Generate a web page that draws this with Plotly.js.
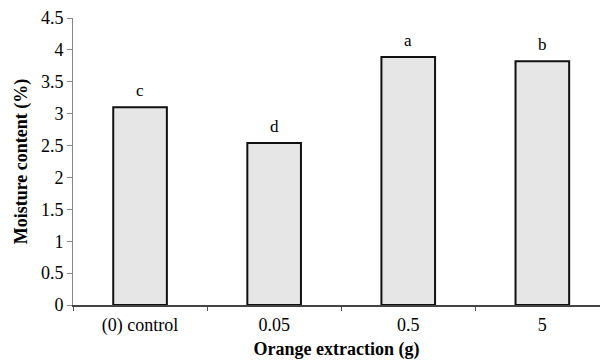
<!DOCTYPE html>
<html>
<head>
<meta charset="utf-8">
<script src="https://cdn.plot.ly/plotly-3.0.1.min.js"></script>
<style>html,body{margin:0;padding:0;background:#fff;}#chart{width:600px;height:360px;}</style>
</head>
<body>
<div id="chart"></div>
<script>
var categories = ["(0) control", "0.05", "0.5", "5"];
var moisture = [3.10, 2.54, 3.89, 3.82];
var letters = ["c", "d", "a", "b"];

var serif = "'Liberation Serif', 'Times New Roman', 'DejaVu Serif', serif";

var trace = {
  type: "bar",
  x: categories,
  y: moisture,
  width: 0.4,
  marker: {color: "#e6e6e6", line: {color: "#111", width: 2}},
  hoverinfo: "x+y"
};

var annotations = categories.map(function (c, i) {
  return {
    x: i, y: moisture[i], text: letters[i], showarrow: false,
    xref: "x", yref: "y",
    yanchor: "bottom", yshift: 5, font: {family: serif, size: 17, color: "#000"}
  };
});

var layout = {
  width: 600, height: 360,
  margin: {l: 73, r: 0, t: 18, b: 55},
  paper_bgcolor: "#fff", plot_bgcolor: "#fff",
  showlegend: false,
  font: {family: serif, size: 18, color: "#000"},
  xaxis: {
    type: "category",
    range: [-0.5, 3.43],
    tickson: "boundaries",
    ticks: "outside", ticklen: 4, tickcolor: "#555",
    showline: true, linecolor: "#444", linewidth: 1.5,
    showgrid: false, zeroline: false,
    ticklabelstandoff: 3,
    tickfont: {family: serif, size: 18},
    title: {text: "<b>Orange extraction (g)</b>", font: {family: serif, size: 18}, standoff: 8}
  },
  yaxis: {
    range: [0, 4.5], dtick: 0.5,
    ticks: "outside", ticklen: 5, tickcolor: "#888",
    showline: true, linecolor: "#888", linewidth: 1,
    showgrid: false, zeroline: false,
    tickfont: {family: serif, size: 18},
    title: {text: "<b>Moisture content (%)</b>", font: {family: serif, size: 18}, standoff: 8}
  },
  annotations: annotations
};

Plotly.newPlot("chart", [trace], layout, {displayModeBar: false, staticPlot: true});
</script>
</body>
</html>
